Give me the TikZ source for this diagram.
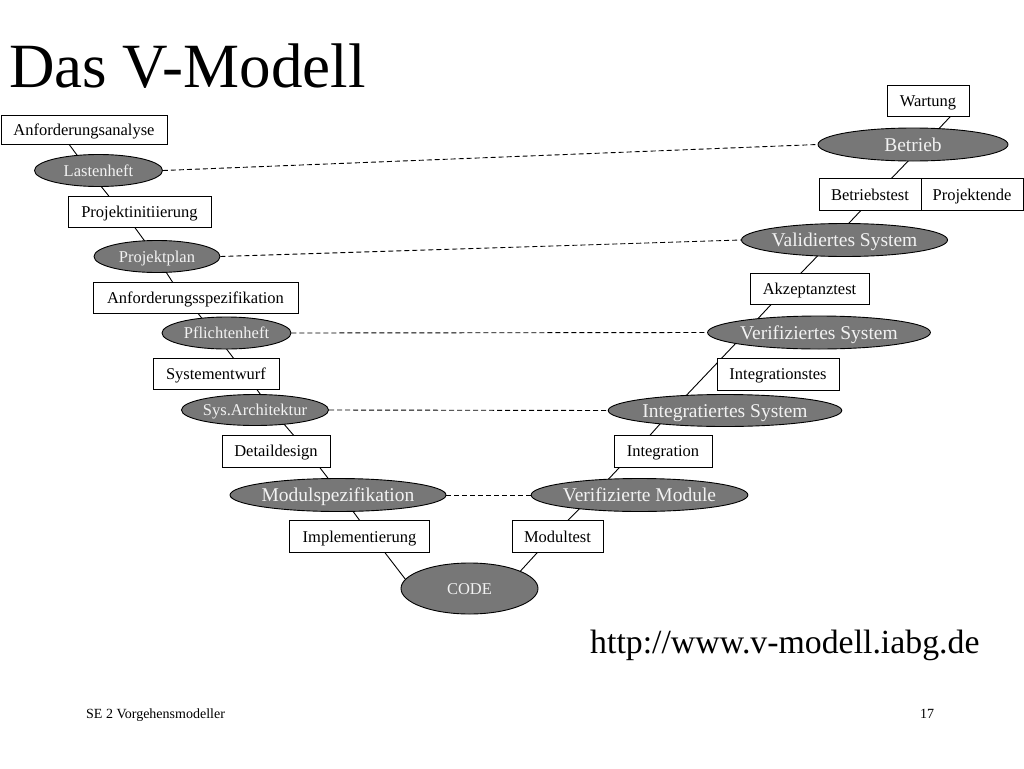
\documentclass[tikz,border=0pt]{standalone}
\usepackage{fontspec}
\setmainfont{Liberation Serif}
\usetikzlibrary{shapes.geometric,backgrounds}
\definecolor{ellgray}{HTML}{777777}
\definecolor{elltext}{HTML}{F2F2F2}
\newcommand\fsbox{\fontsize{16.5}{18}\selectfont}
\newcommand\fsbig{\fontsize{19.5}{22}\selectfont}
\tikzset{
  boxnode/.style={draw, fill=white, line width=0.9pt, inner sep=0pt, font=\fsbox, text=black, text height=11pt, text depth=0pt},
  ellnode/.style={ellipse, draw, fill=ellgray, line width=0.9pt, inner sep=0pt, font=\fsbox, text=elltext, text height=11pt, text depth=0pt},
  bigtext/.style={font=\fsbig, text height=13pt, text depth=0pt},
  vline/.style={line width=0.9pt},
  dline/.style={line width=0.9pt, dash pattern=on 5pt off 3pt},
  sz/.style 2 args={minimum width=#1pt, minimum height=#2pt}
}
\begin{document}
\begin{tikzpicture}[x=1pt,y=-1pt]
\useasboundingbox (0,0) rectangle (1024,768);

% title, url, footer
\node[anchor=base west, inner sep=0, font=\fontsize{63}{70}\selectfont] (title) at (9,87) {Das V-Modell};
\node[anchor=base west, inner sep=0, font=\fontsize{33.8}{38}\selectfont] (url) at (590,653) {http://www.v-modell.iabg.de};
\node[anchor=base west, inner sep=0, font=\fontsize{14}{16}\selectfont] (footer) at (86,718) {SE 2 Vorgehensmodeller};
\node[anchor=base west, inner sep=0, font=\fontsize{14}{16}\selectfont] (pagenum) at (920,718) {17};

% left branch
\node[boxnode, sz={166}{29}] (L1) at (84,129.5) {Anforderungsanalyse};
\node[ellnode, sz={128}{32}] (L2) at (98.5,170.5) {Lastenheft};
\node[boxnode, sz={143}{31}] (L3) at (139.5,212) {Projektinitiierung};
\node[ellnode, sz={126}{32}] (L4) at (157,256.5) {Projektplan};
\node[boxnode, sz={205}{31}] (L5) at (195.5,297.5) {Anforderungsspezifikation};
\node[ellnode, sz={129}{32}] (L6) at (226.5,333) {Pflichtenheft};
\node[boxnode, sz={126}{31}] (L7) at (216,373.5) {Systementwurf};
\node[ellnode, sz={136}{31}] (L8) at (255,410) {Sys.Architektur};
\node[boxnode, sz={108}{32}] (L9) at (276,451) {Detaildesign};
\node[ellnode, bigtext, sz={182}{33}] (L10) at (338,495) {Modulspezifikation};
\node[boxnode, sz={140}{32}] (L11) at (359.5,536.5) {Implementierung};

% bottom
\node[ellnode, sz={137}{51}] (C) at (469.5,588.5) {CODE};

% right branch
\node[boxnode, sz={91}{32}] (R11) at (557.5,536.5) {Modultest};
\node[ellnode, bigtext, sz={187}{33}] (R10) at (639.5,495) {Verifizierte Module};
\node[boxnode, sz={98}{32}] (R9) at (663,451) {Integration};
\node[ellnode, bigtext, sz={190}{32}] (R8) at (725,410.5) {Integratiertes System};
\node[boxnode, sz={122}{32}] (R7) at (778,374) {Integrationstes};
\node[ellnode, bigtext, sz={189}{33}] (R6) at (819,332.5) {Verifiziertes System};
\node[boxnode, sz={119}{31}] (R5) at (809.5,288.5) {Akzeptanztest};
\node[ellnode, bigtext, sz={189}{33}] (R4) at (844.5,240) {Validiertes System};
\node[boxnode, sz={102}{32}] (R3) at (870,194.5) {Betriebstest};
\node[boxnode, sz={102}{32}] (R3b) at (972,194.5) {Projektende};
\node[ellnode, bigtext, sz={190}{33}] (R2) at (913,144.5) {Betrieb};
\node[boxnode, sz={82}{31}] (R1) at (928,101) {Wartung};

% V connectors, behind the shapes
\begin{scope}[on background layer]
\fill[white] (0,0) rectangle (1024,768);
\draw[vline] ([xshift=-26pt]L1.center) -- ([xshift=-10pt]L2.center);
\draw[vline] ([xshift=-10pt]L2.center) -- ([xshift=-18pt]L3.center);
\draw[vline] ([xshift=-16pt]L3.center) -- ([xshift=-1pt]L4.center);
\draw[vline] ([xshift=-1pt]L4.center) -- ([xshift=-13pt]L5.center);
\draw[vline] ([xshift=-10pt]L5.center) -- ([xshift=-13pt]L6.center);
\draw[vline] ([xshift=-12pt]L6.center) -- ([xshift=29pt]L7.center);
\draw[vline] ([xshift=29pt]L7.center) -- ([xshift=17pt]L8.center);
\draw[vline] ([xshift=17pt]L8.center) -- ([xshift=31pt]L9.center);
\draw[vline] ([xshift=31pt]L9.center) -- ([xshift=3pt]L10.center);
\draw[vline] ([xshift=3pt]L10.center) -- ([xshift=12pt]L11.center);
\draw[vline] ([xshift=13pt]L11.center) -- ([xshift=-57pt]C.center);
\draw[vline] ([xshift=35pt]C.center) -- ([xshift=-5.5pt]R11.center);
\draw[vline] ([xshift=-6pt]R11.center) -- ([xshift=-46pt]R10.center);
\draw[vline] ([xshift=-46pt]R10.center) -- ([xshift=-28pt]R9.center);
\draw[vline] ([xshift=-27pt]R9.center) -- ([xshift=-53pt]R8.center);
\draw[vline] ([xshift=-53pt]R8.center) -- ([xshift=-73pt]R6.center);
\draw[vline] ([xshift=-74pt]R6.center) -- ([xshift=-23.5pt]R5.center);
\draw[vline] ([xshift=-23.5pt]R5.center) -- ([xshift=-11.5pt]R4.center);
\draw[vline] ([xshift=-11.5pt]R4.center) -- ([xshift=6pt]R3.center);
\draw[vline] ([xshift=6pt]R3.center) -- ([xshift=11pt]R2.center);
\draw[vline] ([xshift=11pt]R2.center) -- ([xshift=37pt]R1.center);
\end{scope}

% dashed correspondences
\draw[dline] (L2.east) -- (R2.west);
\draw[dline] (L4.east) -- (R4.west);
\draw[dline] (L6.east) -- (R6.west);
\draw[dline] (L8.east) -- (R8.west);
\draw[dline] (L10.east) -- (R10.west);
\end{tikzpicture}
\end{document}
